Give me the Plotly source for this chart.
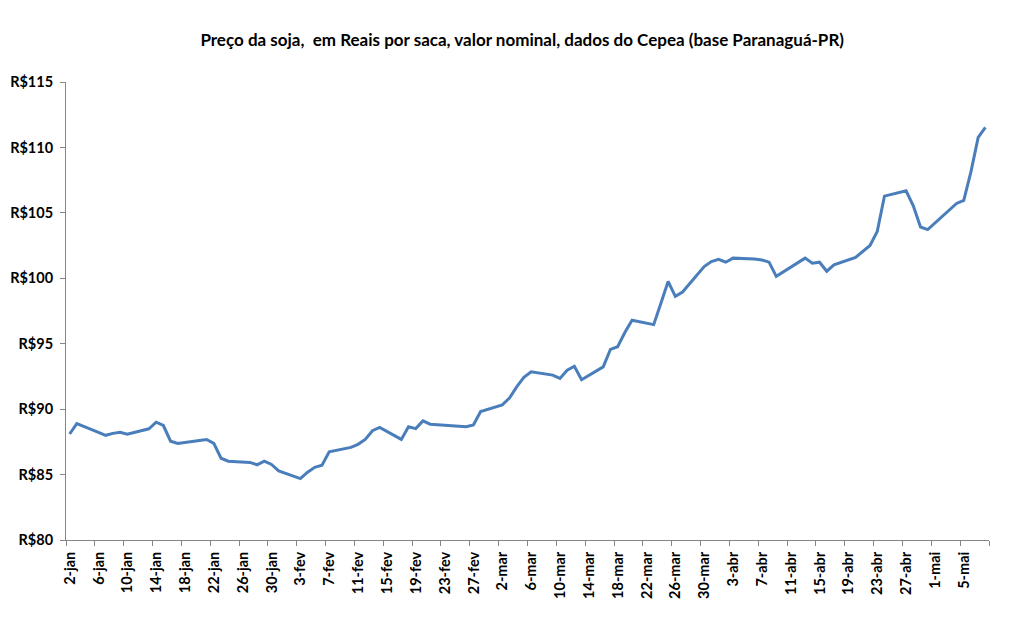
import plotly.graph_objects as go
import pandas as pd

dates = [
    "2020-01-02", "2020-01-03", "2020-01-06", "2020-01-07", "2020-01-08", "2020-01-09", "2020-01-10",
    "2020-01-13", "2020-01-14", "2020-01-15", "2020-01-16", "2020-01-17",
    "2020-01-20", "2020-01-21", "2020-01-22", "2020-01-23", "2020-01-24",
    "2020-01-27", "2020-01-28", "2020-01-29", "2020-01-30", "2020-01-31",
    "2020-02-03", "2020-02-04", "2020-02-05", "2020-02-06", "2020-02-07",
    "2020-02-10", "2020-02-11", "2020-02-12", "2020-02-13", "2020-02-14",
    "2020-02-17", "2020-02-18", "2020-02-19", "2020-02-20", "2020-02-21",
    "2020-02-26", "2020-02-27", "2020-02-28",
    "2020-03-02", "2020-03-03", "2020-03-04", "2020-03-05", "2020-03-06",
    "2020-03-09", "2020-03-10", "2020-03-11", "2020-03-12", "2020-03-13",
    "2020-03-16", "2020-03-17", "2020-03-18", "2020-03-19", "2020-03-20",
    "2020-03-23", "2020-03-24", "2020-03-25", "2020-03-26", "2020-03-27",
    "2020-03-30", "2020-03-31", "2020-04-01", "2020-04-02", "2020-04-03",
    "2020-04-06", "2020-04-07", "2020-04-08", "2020-04-09",
    "2020-04-13", "2020-04-14", "2020-04-15", "2020-04-16", "2020-04-17",
    "2020-04-20", "2020-04-22", "2020-04-23", "2020-04-24",
    "2020-04-27", "2020-04-28", "2020-04-29", "2020-04-30",
    "2020-05-04", "2020-05-05", "2020-05-06", "2020-05-07", "2020-05-08",
]

precos = [
    88.10, 88.90, 88.23, 88.00, 88.15, 88.23, 88.08,
    88.50, 89.00, 88.75, 87.55, 87.38,
    87.60, 87.68, 87.38, 86.25, 86.02,
    85.93, 85.75, 86.02, 85.77, 85.28,
    84.69, 85.18, 85.55, 85.72, 86.74,
    87.08, 87.31, 87.69, 88.35, 88.60,
    87.69, 88.66, 88.51, 89.10, 88.85,
    88.66, 88.79, 89.82,
    90.33, 90.85, 91.70, 92.43, 92.85,
    92.60, 92.35, 92.97, 93.28, 92.25,
    93.23, 94.56, 94.77, 95.85, 96.79,
    96.46, 98.10, 99.76, 98.62, 98.95,
    100.90, 101.28, 101.45, 101.23, 101.54,
    101.48, 101.40, 101.23, 100.15,
    101.54, 101.15, 101.23, 100.54, 101.02,
    101.60, 102.51, 103.58, 106.28,
    106.69, 105.54, 103.92, 103.72,
    105.72, 105.95, 108.15, 110.77, 111.54,
]

tick_labels = [
    "2-jan", "6-jan", "10-jan", "14-jan", "18-jan", "22-jan", "26-jan", "30-jan",
    "3-fev", "7-fev", "11-fev", "15-fev", "19-fev", "23-fev", "27-fev",
    "2-mar", "6-mar", "10-mar", "14-mar", "18-mar", "22-mar", "26-mar", "30-mar",
    "3-abr", "7-abr", "11-abr", "15-abr", "19-abr", "23-abr", "27-abr",
    "1-mai", "5-mai", "",
]

y_ticks = [80, 85, 90, 95, 100, 105, 110, 115]
y_labels = ["R$80", "R$85", "R$90", "R$95", "R$100", "R$105", "R$110", "R$115"]

title = "Preço da soja,  em Reais por saca, valor nominal, dados do Cepea (base Paranaguá-PR)"

# Tick marks sit on day boundaries (half a day before each labelled date)
start = pd.Timestamp("2020-01-02") - pd.Timedelta(hours=12)
tick_vals = [start + pd.Timedelta(days=4 * i) for i in range(len(tick_labels))]
x_end = pd.Timestamp("2020-05-08") + pd.Timedelta(hours=12)

fig = go.Figure()
fig.add_trace(go.Scatter(
    x=pd.to_datetime(dates), y=precos, mode="lines",
    line=dict(color="#4A7EBB", width=3),
    hoverinfo="x+y", showlegend=False,
))

font_family = "Lato, 'Open Sans', sans-serif"

fig.update_layout(
    width=1012, height=631,
    margin=dict(l=66, r=23, t=82, b=91),
    paper_bgcolor="white", plot_bgcolor="white",
    font=dict(family=font_family, color="black"),
    title=dict(text="<b>" + title + "</b>", x=0.516, xanchor="center",
               y=1 - 40 / 631, yanchor="middle",
               font=dict(size=17, family=font_family, color="black")),
)

fig.update_xaxes(
    type="date",
    range=[start, x_end],
    tickmode="array", tickvals=tick_vals,
    ticktext=["<b>" + t + "</b>" if t else "" for t in tick_labels],
    tickangle=-90, ticklabelshift=4,
    ticks="outside", ticklen=5, tickcolor="#868686",
    showline=True, linecolor="#868686", linewidth=1,
    showgrid=False, zeroline=False, automargin=False,
    tickfont=dict(size=14.5, family=font_family, color="black"),
)

fig.update_yaxes(
    range=[80, 115],
    tickmode="array", tickvals=y_ticks,
    ticktext=["<b>" + t + "</b>" for t in y_labels],
    ticks="outside", ticklen=5, tickcolor="#868686",
    showline=True, linecolor="#868686", linewidth=1,
    showgrid=False, zeroline=False, automargin=False,
    ticklabelstandoff=4,
    tickfont=dict(size=14.5, family=font_family, color="black"),
)

fig.write_html("out.html")
